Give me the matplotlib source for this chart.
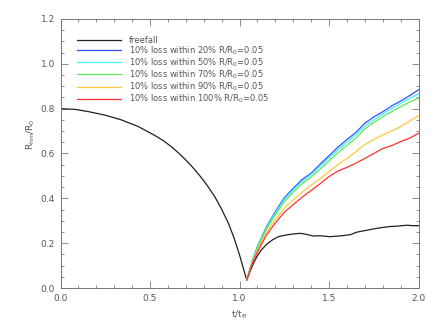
import numpy as np
import matplotlib
matplotlib.use('Agg')
from matplotlib import pyplot as plt
from matplotlib.ticker import MultipleLocator

# freefall curve (black)
t_ff = [0.0, 0.08, 0.155, 0.25, 0.34, 0.435, 0.528, 0.575, 0.62, 0.66, 0.70, 0.74, 0.78,
        0.82, 0.86, 0.90, 0.94, 0.97, 1.00, 1.02, 1.040,
        1.05, 1.06, 1.077, 1.096, 1.12, 1.152, 1.185, 1.217, 1.264, 1.30, 1.338, 1.375,
        1.412, 1.45, 1.506, 1.54, 1.58, 1.62, 1.655, 1.70, 1.766, 1.80, 1.84, 1.88, 1.934,
        1.97, 2.0]
r_ff = [0.800, 0.797, 0.787, 0.771, 0.750, 0.720, 0.680, 0.657, 0.630, 0.602, 0.571, 0.537,
        0.499, 0.457, 0.410, 0.352, 0.285, 0.222, 0.148, 0.092, 0.036,
        0.054, 0.076, 0.108, 0.138, 0.168, 0.195, 0.215, 0.229, 0.237, 0.241, 0.244,
        0.239, 0.232, 0.233, 0.229, 0.231, 0.234, 0.238, 0.249, 0.256, 0.266, 0.270, 0.274,
        0.276, 0.280, 0.278, 0.278]

# mass-loss runs
t_run = [1.04, 1.07, 1.10, 1.15, 1.20, 1.25, 1.30, 1.35, 1.40, 1.45, 1.50, 1.55,
         1.60, 1.65, 1.70, 1.75, 1.80, 1.85, 1.90, 1.95, 2.00]
r_20 = [0.035, 0.118, 0.185, 0.272, 0.340, 0.402, 0.445, 0.484, 0.512, 0.552, 0.590, 0.628,
        0.662, 0.694, 0.735, 0.763, 0.786, 0.812, 0.834, 0.858, 0.884]
r_50 = [0.035, 0.116, 0.182, 0.268, 0.334, 0.395, 0.438, 0.476, 0.506, 0.543, 0.580, 0.617,
        0.650, 0.683, 0.722, 0.750, 0.776, 0.800, 0.824, 0.846, 0.866]
r_70 = [0.035, 0.114, 0.178, 0.262, 0.326, 0.385, 0.428, 0.465, 0.495, 0.530, 0.566, 0.603,
        0.636, 0.668, 0.710, 0.738, 0.764, 0.786, 0.809, 0.829, 0.847]
r_90 = [0.035, 0.110, 0.168, 0.248, 0.305, 0.357, 0.393, 0.428, 0.458, 0.487, 0.520, 0.550,
        0.578, 0.608, 0.640, 0.662, 0.683, 0.700, 0.720, 0.744, 0.769]
r_100 = [0.035, 0.105, 0.160, 0.236, 0.290, 0.338, 0.372, 0.405, 0.435, 0.465, 0.497, 0.522,
         0.538, 0.557, 0.578, 0.600, 0.622, 0.635, 0.653, 0.668, 0.690]

runs = [(r_20, '#3050ff', '10% loss within 20% R/R$_0$=0.05'),
        (r_50, '#40f0ff', '10% loss within 50% R/R$_0$=0.05'),
        (r_70, '#60e850', '10% loss within 70% R/R$_0$=0.05'),
        (r_90, '#ffc840', '10% loss within 90% R/R$_0$=0.05'),
        (r_100, '#ff3030', '10% loss within 100% R/R$_0$=0.05')]

txt = '#555555'
plt.rcParams['font.family'] = 'DejaVu Sans'
plt.rcParams['font.size'] = 6.5

fig = plt.figure(figsize=(4.36, 3.27), dpi=100)
ax = fig.add_axes([60.5/436, 1 - 288/327, 358/436, 269/327])

ax.plot(t_ff, r_ff, color='#202020', lw=0.9, label='freefall')
for r, c, lab in runs:
    ax.plot(t_run, r, color=c, lw=0.9, label=lab)

ax.set_xlim(0, 2.0)
ax.set_ylim(0, 1.2)
ax.xaxis.set_major_locator(MultipleLocator(0.5))
ax.xaxis.set_minor_locator(MultipleLocator(0.1))
ax.yaxis.set_major_locator(MultipleLocator(0.2))
ax.yaxis.set_minor_locator(MultipleLocator(0.05))
ax.xaxis.set_major_formatter(plt.FormatStrFormatter('%.1f'))
ax.yaxis.set_major_formatter(plt.FormatStrFormatter('%.1f'))
ax.tick_params(which='both', direction='in', top=True, right=True, colors='#777777',
               labelcolor=txt, width=0.6)
ax.tick_params(which='major', length=5, pad=4)
ax.tick_params(which='minor', length=2.5)
for s in ax.spines.values():
    s.set_color('#777777')
    s.set_linewidth(0.7)

ax.set_xlabel('t/t$_{\\rm ff}$', color=txt)
ax.set_ylabel('R$_{\\rm hm}$/R$_0$', color=txt)
ax.yaxis.set_label_coords(-0.065, 0.57)

leg = ax.legend(loc='upper left', frameon=False, handlelength=5.3, handletextpad=0.9,
                labelspacing=-0.05, borderaxespad=1.6, fontsize=6)
for t in leg.get_texts():
    t.set_color(txt)

fig.savefig('out.png', dpi=100)
